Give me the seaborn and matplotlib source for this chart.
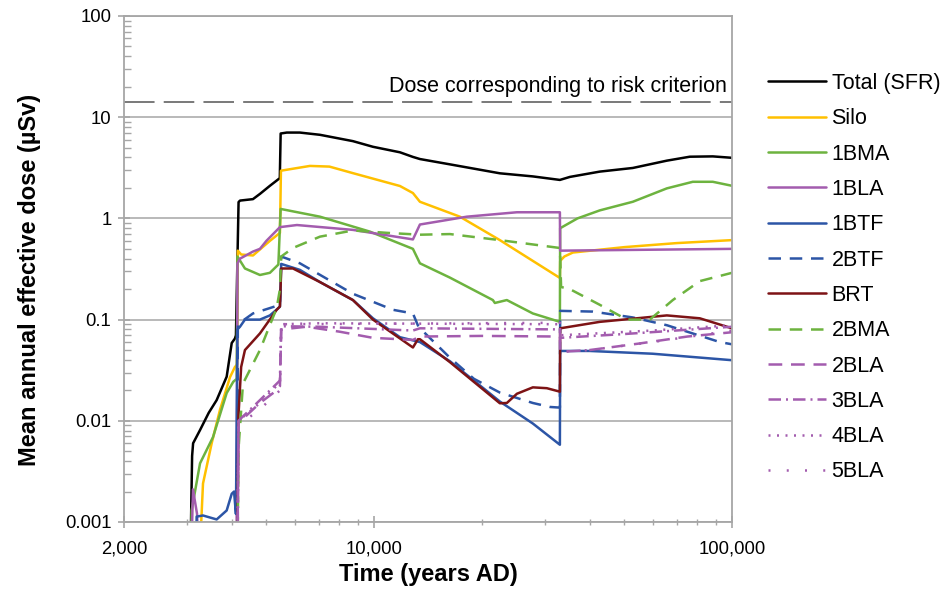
import pandas as pd
import matplotlib
matplotlib.use("Agg")
import matplotlib.pyplot as plt
from matplotlib.lines import Line2D
from matplotlib.ticker import FixedLocator, FixedFormatter, LogLocator, NullFormatter
import seaborn as sns

# Doses below the axis floor start each curve off-scale
FLOOR = 1e-4
RISK_DOSE = 14.0

total_t = [3045, 3100, 3120, 3262, 3450, 3630, 3872, 4000, 4083, 4110, 4180, 4220, 4585, 4800,
           5114, 5450, 5480, 5700, 6200, 7056, 8724, 9924, 11806, 12835, 13426, 16282, 22457,
           27762, 33041, 35238, 42713, 52821, 65750, 76220, 88370, 100000]
total_v = [FLOOR, 0.0045, 0.006, 0.0081, 0.012, 0.016, 0.0273, 0.0587, 0.065, 0.07, 1.45, 1.5,
           1.55, 1.75, 2.1, 2.5, 6.9, 7.05, 7.05, 6.7, 5.8, 5.1, 4.5, 4.05, 3.86, 3.42, 2.79,
           2.6, 2.4, 2.57, 2.9, 3.15, 3.72, 4.07, 4.1, 3.97]

silo_t = [3190, 3325, 3516, 3708, 3956, 4083, 4140, 4160, 4250, 4585, 5114, 5455, 5490, 6615,
          7500, 8724, 11806, 12835, 13426, 17360, 22457, 33041, 33100, 34000, 35925, 50000,
          70000, 100000]
silo_v = [FLOOR, 0.0024, 0.006, 0.0128, 0.027, 0.034, 0.036, 0.48, 0.44, 0.43, 0.6, 0.72, 2.96,
          3.3, 3.25, 2.8, 2.09, 1.78, 1.46, 1.04, 0.61, 0.258, 0.38, 0.42, 0.46, 0.52, 0.57, 0.61]

bma1_t = [3060, 3090, 3262, 3546, 3872, 4040, 4130, 4150, 4355, 4796, 5114, 5400, 5480, 7056,
          9733, 12835, 13426, 16282, 21467, 21745, 23487, 27762, 33041, 33100, 37000, 42713,
          52821, 65750, 77700, 88370, 100000]
bma1_v = [FLOOR, 0.0013, 0.0038, 0.0069, 0.0188, 0.0243, 0.026, 0.42, 0.32, 0.276, 0.29, 0.35,
          1.24, 1.04, 0.74, 0.5, 0.36, 0.26, 0.156, 0.146, 0.156, 0.115, 0.095, 0.8, 1.0, 1.2,
          1.46, 1.98, 2.3, 2.3, 2.1]

bla1_t = [3050, 3117, 3200, 3290, 4120, 4150, 4218, 4585, 4796, 5000, 5455, 6085, 8724, 12835,
          13426, 18161, 25060, 33041, 33100, 100000]
bla1_v = [FLOOR, 0.0021, 0.0012, FLOOR, FLOOR, 0.36, 0.4, 0.47, 0.5, 0.6, 0.82, 0.86, 0.77,
          0.62, 0.87, 1.04, 1.15, 1.15, 0.48, 0.5]

btf1_t = [3150, 3192, 3325, 3630, 3872, 4000, 4060, 4110, 4150, 4218, 4355, 4796, 5114, 5455,
          5500, 6202, 7056, 8724, 9924, 11806, 13426, 16282, 22457, 27762, 33041, 33100, 40000,
          60000, 100000]
btf1_v = [FLOOR, 0.00113, 0.00116, 0.00106, 0.0013, 0.0019, 0.002, 0.0012, 0.08, 0.085, 0.1,
          0.1, 0.11, 0.134, 0.355, 0.31, 0.235, 0.156, 0.103, 0.067, 0.06, 0.0388, 0.0155,
          0.0094, 0.0058, 0.049, 0.049, 0.046, 0.0397]

btf2_t = [4140, 4160, 4585, 5114, 5455, 5500, 6202, 8724, 11282, 12835, 13300, 16282, 19000,
          22457, 27762, 31000, 33041, 33100, 40836, 52821, 65750, 92420, 100000]
btf2_v = [FLOOR, 0.09, 0.115, 0.13, 0.14, 0.42, 0.36, 0.18, 0.125, 0.115, 0.085, 0.042, 0.026,
          0.019, 0.015, 0.0137, 0.0135, 0.122, 0.12, 0.105, 0.088, 0.06, 0.057]

brt_t = [4130, 4176, 4250, 4355, 4796, 5342, 5455, 5500, 5930, 7056, 8724, 9924, 12835, 13255,
         13426, 16282, 22457, 23487, 25060, 27762, 30379, 33041, 33100, 42713, 65750, 81280,
         100000]
brt_v = [FLOOR, 0.011, 0.034, 0.05, 0.073, 0.125, 0.135, 0.32, 0.32, 0.235, 0.156, 0.1, 0.053,
         0.064, 0.064, 0.038, 0.0149, 0.015, 0.0185, 0.0214, 0.021, 0.0194, 0.082, 0.095, 0.11,
         0.103, 0.082]

bma2_t = [4140, 4176, 4300, 4796, 5342, 5455, 5500, 5930, 7056, 8724, 10857, 13426, 16282,
          22457, 33041, 33300, 35238, 42713, 50822, 58940, 68330, 81280, 100000]
bma2_v = [FLOOR, 0.0051, 0.0233, 0.05, 0.13, 0.2, 0.42, 0.51, 0.66, 0.76, 0.72, 0.69, 0.7,
          0.61, 0.51, 0.21, 0.2, 0.14, 0.1, 0.1, 0.156, 0.24, 0.29]

bla2_t = [4140, 4176, 4796, 5342, 5455, 5500, 6475, 8000, 9924, 12835, 13426, 20000, 33041,
          33100, 40000, 55000, 75000, 100000]
bla2_v = [FLOOR, 0.0095, 0.015, 0.02, 0.022, 0.08, 0.085, 0.076, 0.066, 0.063, 0.068, 0.069,
          0.068, 0.048, 0.05, 0.058, 0.068, 0.075]

bla3_t = [4140, 4176, 4796, 5455, 5500, 7000, 12835, 13426, 33041, 33100, 50000, 100000]
bla3_v = [FLOOR, 0.01, 0.016, 0.025, 0.086, 0.085, 0.078, 0.082, 0.08, 0.066, 0.072, 0.085]

bla4_t = [4140, 4176, 4796, 5455, 5500, 7000, 33041, 33100, 60000, 100000]
bla4_v = [FLOOR, 0.01, 0.015, 0.024, 0.09, 0.092, 0.09, 0.07, 0.078, 0.088]

bla5_t = [4140, 4176, 4796, 5455, 5500, 33041, 33100, 40000, 60000, 100000]
bla5_v = [FLOOR, 0.009, 0.013, 0.02, 0.09, 0.093, 0.048, 0.05, 0.06, 0.078]

sources = ["Total (SFR)", "Silo", "1BMA", "1BLA", "1BTF", "2BTF", "BRT",
           "2BMA", "2BLA", "3BLA", "4BLA", "5BLA"]
series = [(total_t, total_v), (silo_t, silo_v), (bma1_t, bma1_v), (bla1_t, bla1_v),
          (btf1_t, btf1_v), (btf2_t, btf2_v), (brt_t, brt_v), (bma2_t, bma2_v),
          (bla2_t, bla2_v), (bla3_t, bla3_v), (bla4_t, bla4_v), (bla5_t, bla5_v)]

x_tick_values = [2000, 10000, 100000]
x_tick_labels = ["2,000", "10,000", "100,000"]
y_tick_values = [0.001, 0.01, 0.1, 1, 10, 100]
y_tick_labels = ["0.001", "0.01", "0.1", "1", "10", "100"]

BLACK, YELLOW, GREEN = "#000000", "#ffc000", "#6db33f"
PURPLE, BLUE, DARKRED = "#a35cae", "#2c55a6", "#7d1315"
palette = {"Total (SFR)": BLACK, "Silo": YELLOW, "1BMA": GREEN, "1BLA": PURPLE,
           "1BTF": BLUE, "2BTF": BLUE, "BRT": DARKRED, "2BMA": GREEN,
           "2BLA": PURPLE, "3BLA": PURPLE, "4BLA": PURPLE, "5BLA": PURPLE}
dash_map = {"Total (SFR)": "", "Silo": "", "1BMA": "", "1BLA": "", "1BTF": "",
            "2BTF": (5, 3.5), "BRT": "", "2BMA": (5, 3.5), "2BLA": (5.5, 3.5),
            "3BLA": (5, 2, 0.8, 2), "4BLA": (0.8, 2.6), "5BLA": (0.8, 6.5)}

frames = []
for name, (t, v) in zip(sources, series):
    frames.append(pd.DataFrame({"time": t, "dose": v, "source": name}))
df = pd.concat(frames, ignore_index=True)

sns.set_theme(style="white")
plt.rcParams["font.family"] = ["Liberation Sans", "DejaVu Sans"]
plt.rcParams["text.color"] = "#000000"
plt.rcParams["axes.labelcolor"] = "#000000"
plt.rcParams["xtick.labelcolor"] = "#000000"
plt.rcParams["ytick.labelcolor"] = "#000000"

fig = plt.figure(figsize=(9.41, 5.92), dpi=100)
ax = fig.add_axes([124 / 941, 1 - 522 / 592, 608 / 941, 506 / 592])
ax.set_xscale("log")
ax.set_yscale("log")

LW = 1.8
sns.lineplot(data=df, x="time", y="dose", hue="source", style="source",
             hue_order=sources, style_order=sources, palette=palette, dashes=dash_map,
             estimator=None, sort=False, linewidth=LW, legend=False, ax=ax)

ax.set_xlim(2000, 100000)
ax.set_ylim(0.001, 100)

# Risk criterion reference line and its caption
ax.axhline(RISK_DOSE, color="#555555", lw=1.1, dashes=(20, 6), zorder=1)
ax.text(96500, RISK_DOSE * 1.13, "Dose corresponding to risk criterion",
        ha="right", va="bottom", fontsize=15.5, color="#000000")

GRID = "#a6a6a6"
ax.yaxis.grid(True, which="major", color=GRID, lw=1.1)
ax.xaxis.grid(False)
ax.set_axisbelow(True)
for side in ["left", "right", "top", "bottom"]:
    ax.spines[side].set_visible(True)
    ax.spines[side].set_color(GRID)
    ax.spines[side].set_linewidth(1.3)

ax.xaxis.set_major_locator(FixedLocator(x_tick_values))
ax.xaxis.set_major_formatter(FixedFormatter(x_tick_labels))
ax.xaxis.set_minor_locator(LogLocator(base=10, subs=range(2, 10)))
ax.xaxis.set_minor_formatter(NullFormatter())
ax.yaxis.set_major_locator(FixedLocator(y_tick_values))
ax.yaxis.set_major_formatter(FixedFormatter(y_tick_labels))
ax.yaxis.set_minor_locator(LogLocator(base=10, subs=range(2, 10)))
ax.yaxis.set_minor_formatter(NullFormatter())

ax.tick_params(axis="x", which="major", direction="inout", length=8, width=1.2,
               color=GRID, labelsize=13.3, pad=9, bottom=True)
ax.tick_params(axis="x", which="minor", direction="inout", length=5, width=1.0,
               color=GRID, bottom=True)
ax.tick_params(axis="y", which="major", direction="inout", length=8, width=1.2,
               color=GRID, labelsize=13.3, pad=5, left=True)
ax.tick_params(axis="y", which="minor", direction="in", length=5, width=1.0,
               color=GRID, left=True)

ax.set_xlabel("Time (years AD)", fontsize=17, fontweight="bold")
ax.set_ylabel("Mean annual effective dose (µSv)", fontsize=17, fontweight="bold")
ax.xaxis.set_label_coords(0.5, (522 - 563) / 506)
ax.yaxis.set_label_coords((41 - 124) / 608, (522 - 280) / 506)

handles = []
for name in sources:
    d = dash_map[name]
    if d == "":
        h = Line2D([], [], color=palette[name], lw=LW, linestyle="-")
    else:
        h = Line2D([], [], color=palette[name], lw=LW, dashes=d)
    handles.append(h)
fig.legend(handles, sources, loc="upper left", bbox_to_anchor=(768 / 941, 1 - 73 / 592),
           frameon=False, fontsize=15.5, handlelength=2.7, handletextpad=0.25,
           labelspacing=0.665, borderpad=0, borderaxespad=0)

fig.savefig("out.png", dpi=100)
